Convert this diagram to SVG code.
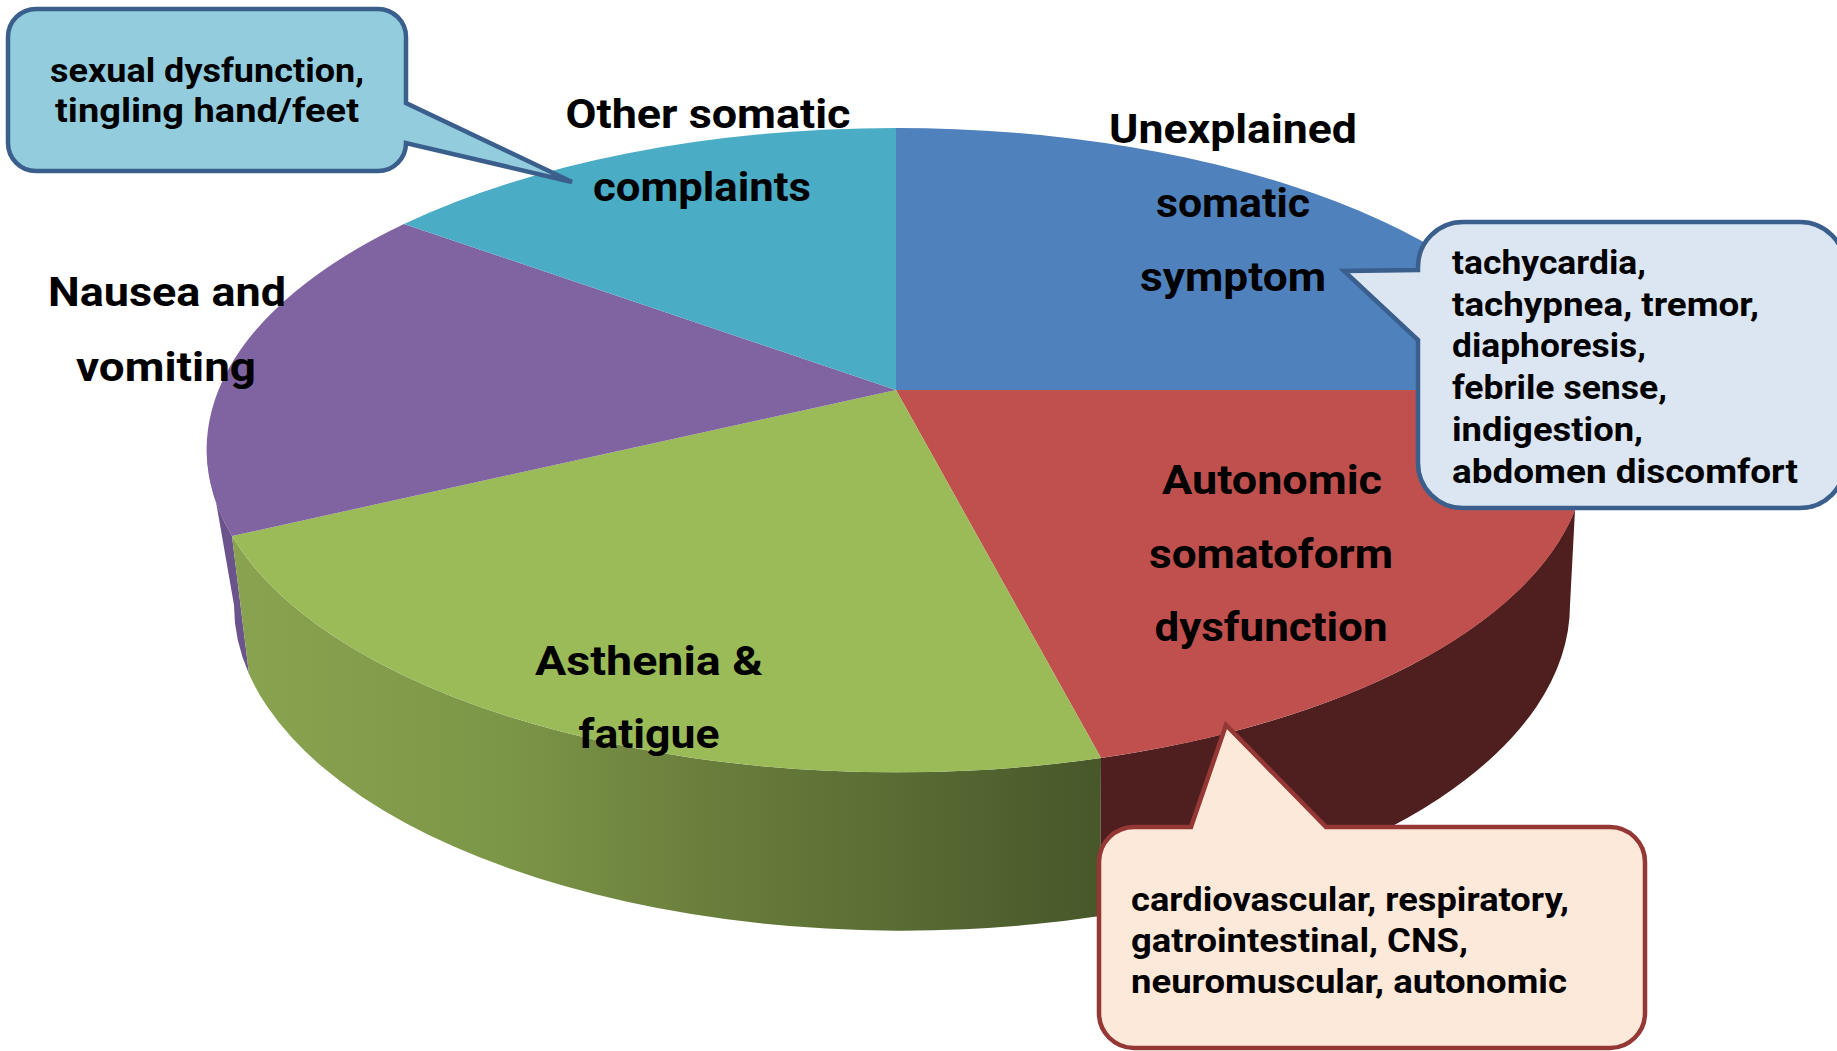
<svg xmlns="http://www.w3.org/2000/svg" width="1837" height="1051" viewBox="0 0 1837 1051">
<style>
.t{font-family:Roboto,"Malgun Gothic","Noto Sans",sans-serif;font-weight:700;fill:#000}
.lbl{font-size:40px;text-anchor:middle}
.co{font-size:34px}
.cm{text-anchor:middle}
.cb{stroke-width:4.5;stroke-linejoin:miter}
</style>
<defs>
<linearGradient id="gside" gradientUnits="userSpaceOnUse" x1="232" y1="0" x2="1101" y2="0">
<stop offset="0" stop-color="#89A350"/>
<stop offset="0.3" stop-color="#7D9748"/>
<stop offset="0.55" stop-color="#6A7E3C"/>
<stop offset="0.78" stop-color="#586B33"/>
<stop offset="1" stop-color="#47572A"/>
</linearGradient>
</defs>
<rect width="1837" height="1051" fill="#FFFFFF"/>
<g id="pie">
<g id="sides">
<path d="M 207 450 A 690 322 0 0 0 232 536 L 249 674 A 668 326 0 0 1 234 605 Z" fill="#6B538B"/>
<path d="M 1101 758 A 690 322 0 0 1 232 536 L 249 674 A 668 326 0 0 0 1100 916 Z" fill="url(#gside)"/>
<path d="M 1575 510 A 690 322 0 0 1 1101 758 L 1100 916 A 668 326 0 0 0 1570 605 Z" fill="#4F1F1F"/>
</g>
<g id="slice-unexplained">
<path d="M 896 390 L 896 128 A 690 322 0 0 1 1575 390 Z" fill="#4F81BD"/>
</g>
<g id="slice-autonomic">
<path d="M 896 390 L 1575 390 A 690 322 0 0 1 1101 758 Z" fill="#C0504D"/>
</g>
<g id="slice-asthenia">
<path d="M 896 390 L 1101 758 A 690 322 0 0 1 232 536 Z" fill="#9BBB59"/>
</g>
<g id="slice-nausea">
<path d="M 896 390 L 232 536 A 690 322 0 0 1 404 224 Z" fill="#8064A2"/>
</g>
<g id="slice-other">
<path d="M 896 390 L 404 224 A 690 322 0 0 1 896 128 Z" fill="#4BACC6"/>
</g>
</g>
<g id="labels">
<text class="t lbl" x="708" y="128" textLength="285" lengthAdjust="spacingAndGlyphs">Other somatic</text>
<text class="t lbl" x="702" y="201" textLength="218" lengthAdjust="spacingAndGlyphs">complaints</text>
<text class="t lbl" x="1233" y="143" textLength="248" lengthAdjust="spacingAndGlyphs">Unexplained</text>
<text class="t lbl" x="1233" y="217" textLength="154" lengthAdjust="spacingAndGlyphs">somatic</text>
<text class="t lbl" x="1233" y="291" textLength="186" lengthAdjust="spacingAndGlyphs">symptom</text>
<text class="t lbl" x="167" y="306" textLength="238" lengthAdjust="spacingAndGlyphs">Nausea and</text>
<text class="t lbl" x="166" y="381" textLength="180" lengthAdjust="spacingAndGlyphs">vomiting</text>
<text class="t lbl" x="649" y="675" textLength="228" lengthAdjust="spacingAndGlyphs">Asthenia &amp;</text>
<text class="t lbl" x="649" y="748" textLength="141" lengthAdjust="spacingAndGlyphs">fatigue</text>
<text class="t lbl" x="1272" y="494" textLength="220" lengthAdjust="spacingAndGlyphs">Autonomic</text>
<text class="t lbl" x="1271" y="568" textLength="244" lengthAdjust="spacingAndGlyphs">somatoform</text>
<text class="t lbl" x="1271" y="641" textLength="233" lengthAdjust="spacingAndGlyphs">dysfunction</text>
</g>
<g id="callout-other">
<path class="cb" d="M 36 9 H 378 A 28 28 0 0 1 406 37 V 103 L 572 182 L 406 143 A 28 28 0 0 1 378 171 H 36 A 28 28 0 0 1 8 143 V 37 A 28 28 0 0 1 36 9 Z" fill="#93CDDD" stroke="#3B5F8D"/>
<text class="t co cm" x="207" y="82" textLength="314" lengthAdjust="spacingAndGlyphs">sexual dysfunction,</text>
<text class="t co cm" x="207" y="122" textLength="304" lengthAdjust="spacingAndGlyphs">tingling hand/feet</text>
</g>
<g id="callout-unexplained">
<path class="cb" d="M 1463 222 H 1800 A 45 45 0 0 1 1845 267 V 463 A 45 45 0 0 1 1800 508 H 1463 A 45 45 0 0 1 1418 463 V 340 L 1344 271 L 1418 270 V 267 A 45 45 0 0 1 1463 222 Z" fill="#DCE6F2" stroke="#3B5F8D"/>
<text class="t co" x="1452" y="274" textLength="194" lengthAdjust="spacingAndGlyphs">tachycardia,</text>
<text class="t co" x="1452" y="316" textLength="307" lengthAdjust="spacingAndGlyphs">tachypnea, tremor,</text>
<text class="t co" x="1452" y="357" textLength="194" lengthAdjust="spacingAndGlyphs">diaphoresis,</text>
<text class="t co" x="1452" y="399" textLength="215" lengthAdjust="spacingAndGlyphs">febrile sense,</text>
<text class="t co" x="1452" y="441" textLength="191" lengthAdjust="spacingAndGlyphs">indigestion,</text>
<text class="t co" x="1452" y="483" textLength="346" lengthAdjust="spacingAndGlyphs">abdomen discomfort</text>
</g>
<g id="callout-autonomic">
<path class="cb" d="M 1134 827 H 1191 L 1226 725 L 1326 827 H 1610 A 35 35 0 0 1 1645 862 V 1013 A 35 35 0 0 1 1610 1048 H 1134 A 35 35 0 0 1 1099 1013 V 862 A 35 35 0 0 1 1134 827 Z" fill="#FDE9D9" stroke="#953735"/>
<text class="t co" x="1131" y="911" textLength="438" lengthAdjust="spacingAndGlyphs">cardiovascular, respiratory,</text>
<text class="t co" x="1131" y="952" textLength="337" lengthAdjust="spacingAndGlyphs">gatrointestinal, CNS,</text>
<text class="t co" x="1131" y="993" textLength="436" lengthAdjust="spacingAndGlyphs">neuromuscular, autonomic</text>
</g>
<g id="connectors"/>
</svg>
